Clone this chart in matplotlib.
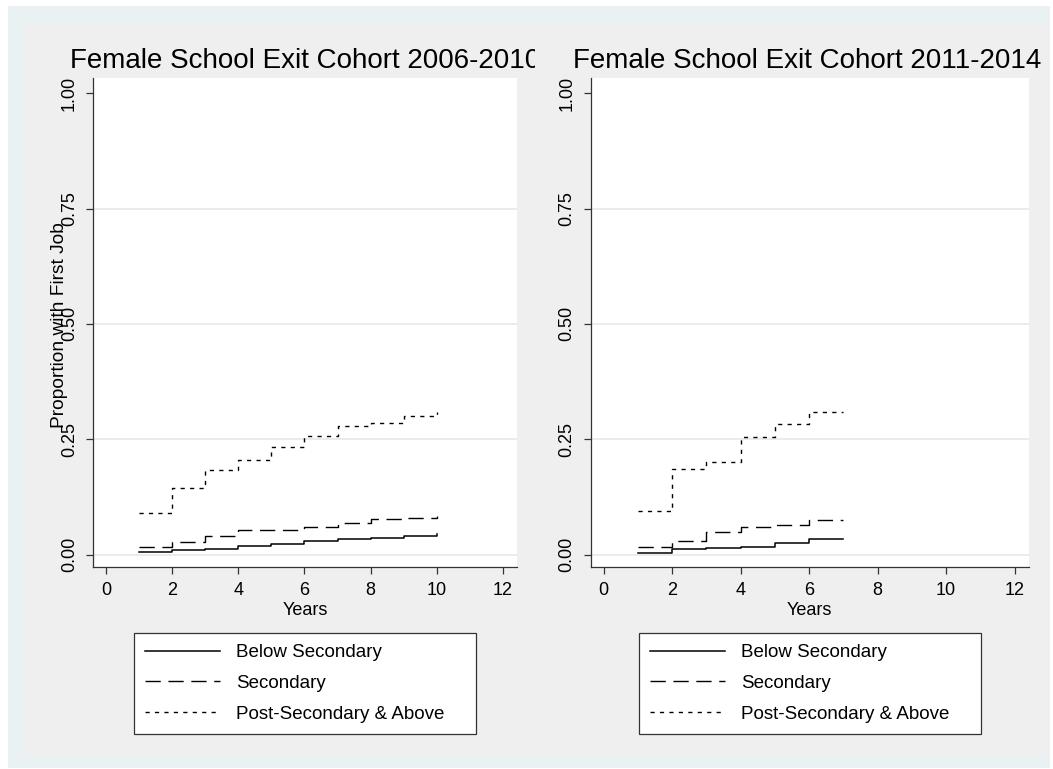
import matplotlib.pyplot as plt
import numpy as np
from matplotlib.patches import Rectangle
from matplotlib.transforms import Bbox, TransformedBbox

plt.rcParams['font.family'] = ['Liberation Sans', 'DejaVu Sans']

W, H = 1053, 769

# data
years_a = [1, 2, 3, 4, 5, 6, 7, 8, 9, 10]
below_a = [0.006, 0.009, 0.013, 0.019, 0.023, 0.029, 0.033, 0.035, 0.041, 0.045]
second_a = [0.016, 0.027, 0.041, 0.053, 0.054, 0.060, 0.068, 0.076, 0.080, 0.083]
post_a = [0.090, 0.144, 0.183, 0.204, 0.233, 0.257, 0.279, 0.285, 0.301, 0.309]

years_b = [1, 2, 3, 4, 5, 6, 7]
below_b = [0.004, 0.012, 0.014, 0.016, 0.025, 0.034, 0.034]
second_b = [0.017, 0.030, 0.048, 0.060, 0.065, 0.074, 0.074]
post_b = [0.094, 0.185, 0.201, 0.254, 0.283, 0.308, 0.308]

titles = ['Female School Exit Cohort 2006-2010', 'Female School Exit Cohort 2011-2014']
labels = ['Below Secondary', 'Secondary', 'Post-Secondary & Above']
yticks = [0, 0.25, 0.5, 0.75, 1.0]
ytick_labels = ['0.00', '0.25', '0.50', '0.75', '1.00']
xticks = [0, 2, 4, 6, 8, 10, 12]


def px(x, y):
    return x / W, 1 - y / H


fig = plt.figure(figsize=(W / 100, H / 100), dpi=100)
fig.patch.set_facecolor('white')
fig.add_artist(Rectangle(px(8, 768), 1042 / W, 762 / H, transform=fig.transFigure,
                         facecolor='#eaf1f3', edgecolor='none', zorder=-10))
fig.add_artist(Rectangle(px(25, 756), 1023 / W, 733 / H, transform=fig.transFigure,
                         facecolor='#efefef', edgecolor='none', zorder=-9))

panels = [
    (93.3, 517, years_a, [below_a, second_a, post_a], 70, 535),
    (590.5, 1029, years_b, [below_b, second_b, post_b], 573, 1050),
]
styles = [dict(ls='-', lw=1.1),
          dict(ls=(0, (11, 5.5)), lw=1.0),
          dict(ls=(0, (3, 3.8)), lw=1.0)]

for i, (x0, x1, yrs, series, tx, clipx) in enumerate(panels):
    top, bot = 78, 567
    ax = fig.add_axes([x0 / W, 1 - bot / H, (x1 - x0) / W, (bot - top) / H])
    ax.set_facecolor('white')
    for vals, lab, st in zip(series, labels, styles):
        ax.step(yrs, vals, where='post', color='black', label=lab, **st)
    ax.set_xlim(-0.38, 12.42)
    ax.set_ylim(-0.027, 1.033)
    ax.set_yticks(yticks)
    ax.set_yticklabels(ytick_labels, rotation=90, va='center', fontsize=13)
    ax.set_xticks(xticks)
    ax.set_xticklabels([str(t) for t in xticks], fontsize=13)
    for s in ['top', 'right']:
        ax.spines[s].set_visible(False)
    for s in ['left', 'bottom']:
        ax.spines[s].set_color('#333333')
        ax.spines[s].set_linewidth(0.9)
    ax.tick_params(length=5, width=0.9, color='#333333', pad=6)
    ax.tick_params(axis='y', pad=6)
    for g in [0, 0.25, 0.5, 0.75]:
        ax.axhline(g, color='#e8e8e8', lw=1.2, zorder=0)
    ax.set_xlabel('Years', fontsize=13, labelpad=2)

    t = fig.text(tx / W, 1 - 68 / H, titles[i], fontsize=20, ha='left', va='baseline')
    t.set_clip_box(TransformedBbox(Bbox([[0, 0], [clipx / W, 1]]), fig.transFigure))
    t.set_clip_on(True)

    leg = ax.legend(loc='upper left', bbox_to_anchor=((x0 + x1) / 2 / W - 171 / W, 1 - 633 / H, 342 / W, 0),
                    bbox_transform=fig.transFigure, mode='expand', fontsize=13.5, frameon=True,
                    fancybox=False, edgecolor='#333333', framealpha=1,
                    handlelength=4.0, handletextpad=0.85, labelspacing=0.72,
                    borderpad=0.6, borderaxespad=0)
    leg.get_frame().set_linewidth(0.9)

fig.text(59 / W, 1 - 325 / H, 'Proportion with First Job', rotation=90,
         ha='center', va='center', fontsize=13.8)

fig.savefig('out.png', dpi=100)
